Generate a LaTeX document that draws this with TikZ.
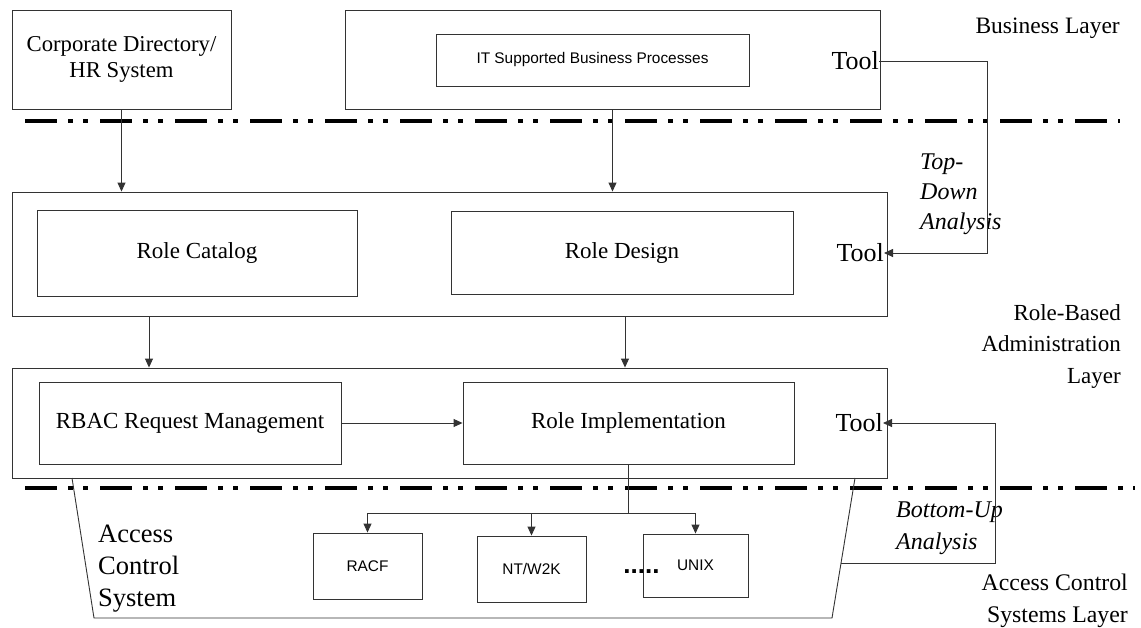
\documentclass[tikz,border=0pt]{standalone}
\usepackage{fontspec}
\setmainfont{Liberation Serif}
\setsansfont{Liberation Sans}
\usetikzlibrary{arrows.meta}
\newcommand{\fs}[2]{\fontsize{#1}{#2}\selectfont}
\begin{document}
\begin{tikzpicture}[x=1pt, y=-1pt, >={Triangle[length=9pt,width=8pt]},
  every node/.style={font=\fs{23}{27}},
  box/.style={draw=black!80,line width=0.9pt,inner sep=0pt,align=center},
  sys/.style={box,font=\sffamily\fs{15.4}{18}},
  tool/.style={inner sep=0pt,font=\fs{26}{30},anchor=east},
  layer/.style={inner sep=0pt,align=right,anchor=east},
  note/.style={inner sep=0pt,align=left,anchor=west,font=\itshape\fs{24}{30}},
  conn/.style={draw=black!80,line width=0.9pt},
  sep/.style={line width=4.5pt,dash pattern=on 32pt off 11pt on 5pt off 10pt on 5pt off 12pt}]
\useasboundingbox (0,0) rectangle (1141,627);
% layer separators
\draw[sep] (25,121) -- (1120,121);
\draw[sep] (25,488) -- (1135,488);
% business layer
\node[box,minimum width=219pt,minimum height=99pt,font=\fs{22.7}{26}] (corp) at (121.5,59.5) {Corporate Directory/\\HR System};
\node[box,minimum width=535pt,minimum height=99pt] (biz) at (612.5,59.5) {};
\node[sys,minimum width=313pt,minimum height=52pt] (itbp) at (592.5,60) {IT Supported Business Processes};
\node[tool] (biztool) at (879,61) {Tool};
\node[layer,anchor=base east,font=\fs{23.5}{28}] (lbiz) at (1120,33) {Business Layer};
% role-based administration layer
\node[box,minimum width=875pt,minimum height=124pt] (role) at (449.5,254) {};
\node[box,minimum width=320pt,minimum height=86pt] (cat) at (197,253) {Role Catalog};
\node[box,minimum width=342pt,minimum height=83pt] (des) at (622,252.5) {Role Design};
\node[tool] (roletool) at (884,253) {Tool};
\node[box,minimum width=875pt,minimum height=110pt] (adm) at (449.5,423) {};
\node[box,minimum width=302pt,minimum height=82pt] (rbac) at (190,423) {RBAC Request Management};
\node[box,minimum width=331pt,minimum height=82pt] (rimpl) at (628.5,423) {Role Implementation};
\node[tool] (impltool) at (883,423) {Tool};
\node[layer,font=\fs{23}{31.5}] (lrole) at (1121,346) {Role-Based\\Administration\\Layer};
% access control systems
\draw[conn] (72,478) -- (94,618) -- (832,618) -- (855,478);
\node[sys,minimum width=109pt,minimum height=66pt] (racf) at (367.5,566) {RACF};
\node[sys,minimum width=109pt,minimum height=66pt] (nt) at (531.5,569) {NT/W2K};
\node[sys,minimum width=105pt,minimum height=63pt] (unix) at (695.5,565.5) {UNIX};
\node[inner sep=0pt,anchor=base,font=\sffamily\bfseries\fs{26}{30}] (dots) at (641.5,573.5) {.....};
\node[inner sep=0pt,align=left,anchor=west,font=\fs{26.5}{32}] (acs) at (98,569) {Access\\Control\\System};
\node[layer,font=\fs{23.8}{32}] (lacs) at (1128,600.5) {Access Control\\Systems Layer};
% analysis labels
\node[note] (tdl) at (920,194) {Top-\\Down\\Analysis};
\node[note,font=\itshape\fs{24}{32}] (bul) at (896,528.5) {Bottom-Up\\Analysis};
% connectors
\draw[conn,->] (corp.south) -- (corp.south |- role.north);
\draw[conn,->] (biz.south) -- (biz.south |- role.north);
\coordinate (tdc) at (987,61);
\draw[conn,->] (biztool.east) -- (tdc) |- (roletool.east);
\draw[conn,->] ([xshift=-300.5pt]role.south) -- ([xshift=-300.5pt]role.south |- adm.north);
\draw[conn,->] ([xshift=175.5pt]role.south) -- ([xshift=175.5pt]role.south |- adm.north);
\draw[conn,->] (rbac) -- (rimpl);
\coordinate (bus) at (628.5,513);
\draw[conn] (rimpl.south) -- (bus);
\draw[conn,->] (bus) -| (racf.north);
\draw[conn,->] (bus) -| (nt.north);
\draw[conn,->] (bus) -| (unix.north);
\coordinate (bu) at (841,563);
\coordinate (buc) at (995,563);
\draw[conn,->] (bu) -- (buc) |- (impltool.east);
\end{tikzpicture}
\end{document}
